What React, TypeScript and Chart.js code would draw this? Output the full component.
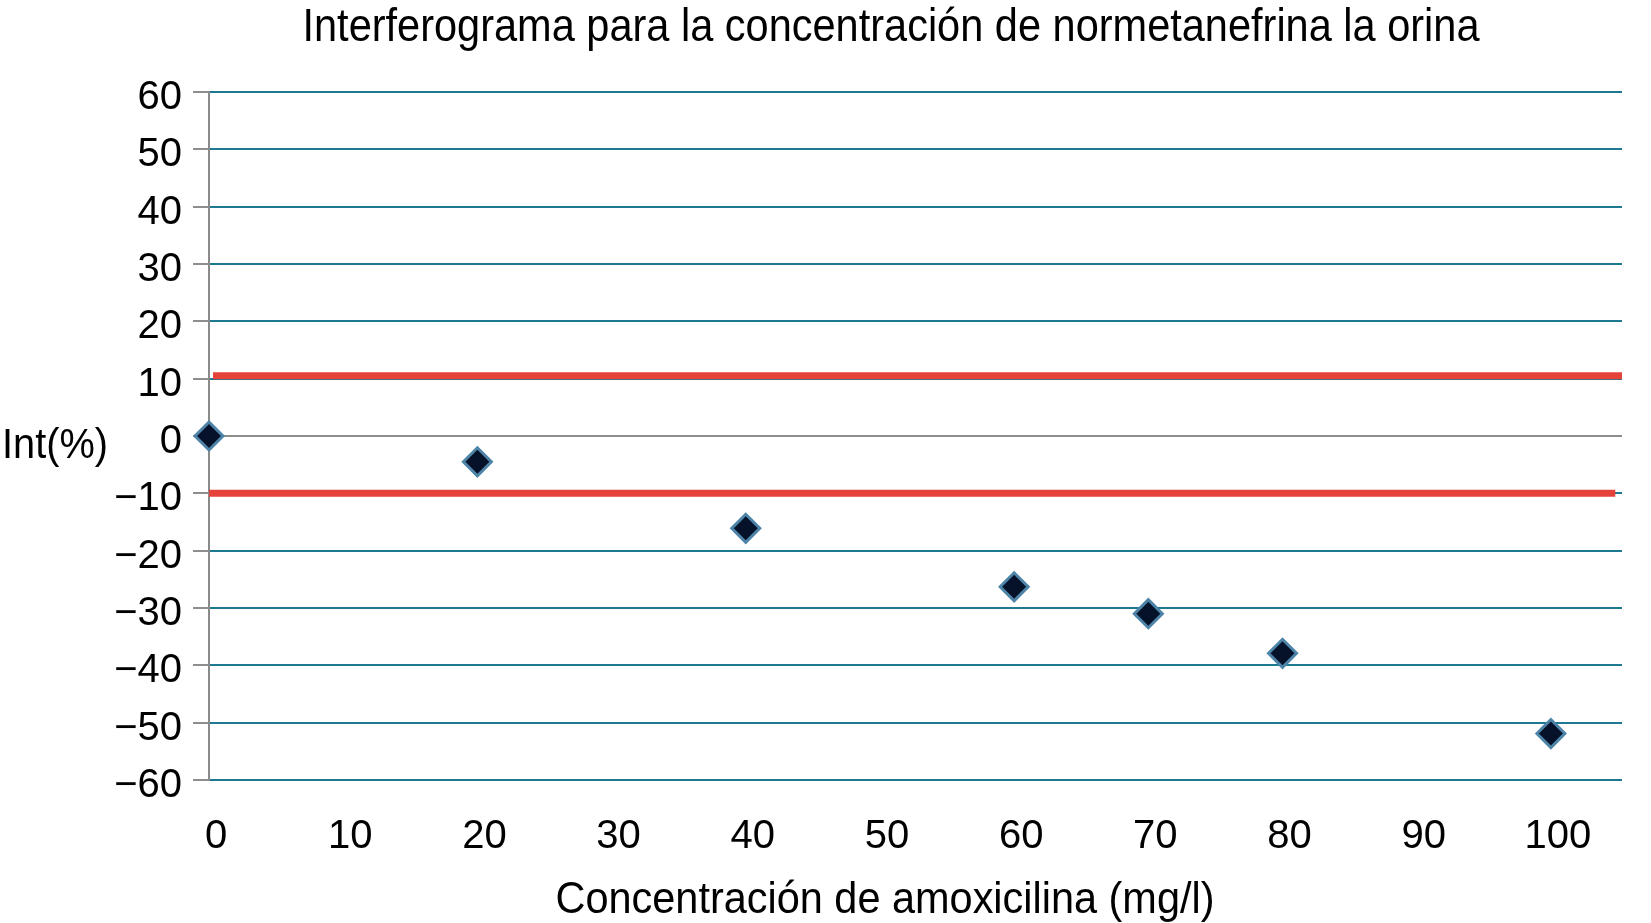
import React, { useEffect, useRef } from "react";
import { Chart, registerables } from "chart.js";

Chart.register(...registerables);

// ---- data ----
const concentrations = [0, 20, 40, 60, 70, 80, 100];
const interference = [0, -4.5, -16.1, -26.3, -31.0, -37.9, -51.9];
const upperLimitX = [0.3, 105.3];
const upperLimit = [10.5, 10.5];
const lowerLimitX = [0, 104.8];
const lowerLimit = [-10, -10];
const xTickValues = [0, 10, 20, 30, 40, 50, 60, 70, 80, 90, 100];
const yTickValues = [-60, -50, -40, -30, -20, -10, 0, 10, 20, 30, 40, 50, 60];
const titleText = "Interferograma para la concentración de normetanefrina la orina";
const xTitleText = "Concentración de amoxicilina (mg/l)";
const yTitleText = "Int(%)";

const FONT = '"Liberation Sans", Arial, Helvetica, sans-serif';

function drawFitted(ctx: any, text: string, size: number, x: number, y: number, width: number, align: string) {
  ctx.save();
  ctx.font = `${size}px ${FONT}`;
  const w = ctx.measureText(text).width;
  const sx = width / w;
  const left = align === "center" ? x - width / 2 : x;
  ctx.translate(left, y);
  ctx.scale(sx, 1);
  ctx.textAlign = "left";
  ctx.textBaseline = "alphabetic";
  ctx.fillStyle = "#000";
  ctx.fillText(text, 0, 0);
  ctx.restore();
}

const textPlugin = {
  id: "customTexts",
  afterDraw(chart: any) {
    const ctx = chart.ctx;
    drawFitted(ctx, titleText, 46, 891, 41, 1177, "center");
    drawFitted(ctx, xTitleText, 44, 885, 913, 659, "center");
    drawFitted(ctx, yTitleText, 42, 2, 458, 106, "left");
  },
};

export default function App() {
  const ref = useRef<HTMLCanvasElement | null>(null);

  useEffect(() => {
    if (!ref.current) return;
    const chart = new Chart(ref.current, {
      type: "scatter",
      data: {
        datasets: [
          {
            label: "Int(%)",
            data: concentrations.map((x, i) => ({ x, y: interference[i] })),
            pointStyle: "rectRot",
            pointRadius: 14,
            pointBackgroundColor: "#061229",
            pointBorderColor: "#4d84a8",
            pointBorderWidth: 3,
            showLine: false,
            clip: false,
          } as any,
          {
            label: "upper",
            data: upperLimitX.map((x, i) => ({ x, y: upperLimit[i] })),
            showLine: true,
            borderColor: "#e5433a",
            borderWidth: 7,
            pointRadius: 0,
            clip: false,
          } as any,
          {
            label: "lower",
            data: lowerLimitX.map((x, i) => ({ x, y: lowerLimit[i] })),
            showLine: true,
            borderColor: "#e5433a",
            borderWidth: 7,
            pointRadius: 0,
            clip: false,
          } as any,
        ],
      },
      options: {
        animation: false,
        responsive: true,
        maintainAspectRatio: false,
        layout: { padding: { top: 92, right: 29, bottom: 0, left: 0 } },
        plugins: {
          legend: { display: false },
          title: { display: false },
          tooltip: { enabled: false },
        },
        scales: {
          x: {
            type: "linear",
            min: 0,
            max: 105.3,
            afterBuildTicks: (scale: any) => {
              scale.ticks = xTickValues.map((v) => ({ value: v }));
            },
            afterFit: (scale: any) => {
              scale.height = 143;
            },
            grid: { display: false, drawTicks: false },
            border: { display: false },
            ticks: {
              color: "#000",
              font: { family: FONT, size: 40 },
              padding: 33,
              labelOffset: 7,
              maxRotation: 0,
              autoSkip: false,
            },
          },
          y: {
            type: "linear",
            min: -60,
            max: 60,
            afterBuildTicks: (scale: any) => {
              scale.ticks = yTickValues.map((v) => ({ value: v }));
            },
            afterFit: (scale: any) => {
              scale.width = 209;
            },
            grid: {
              color: (c: any) => (c.tick && c.tick.value === 0 ? "#8e8e8e" : "#1d7892"),
              lineWidth: 2,
              drawTicks: true,
              tickLength: 16,
              tickColor: "#8e8e8e",
              tickWidth: 2,
            },
            border: { display: true, color: "#8a8a8a", width: 2 },
            ticks: {
              color: "#000",
              font: { family: FONT, size: 40 },
              padding: 11,
              labelOffset: 6,
              autoSkip: false,
              callback: (v: any) => (Number(v) < 0 ? "\u2212" + Math.abs(Number(v)) : String(v)),
            },
          },
        },
      },
      plugins: [textPlugin],
    } as any);
    return () => chart.destroy();
  }, []);

  return (
    <div
      style={{
        position: "fixed",
        left: 0,
        top: 0,
        width: 1651,
        height: 923,
        background: "#fff",
      }}
    >
      <canvas ref={ref} />
    </div>
  );
}
